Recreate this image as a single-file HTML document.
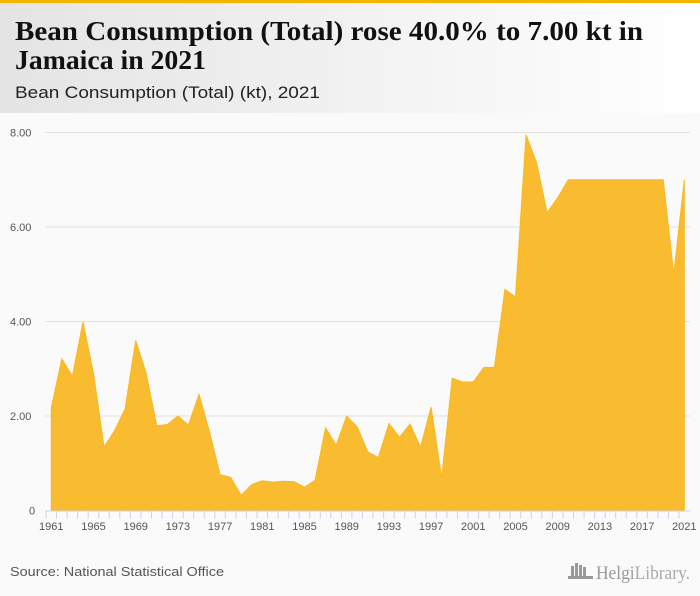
<!DOCTYPE html>
<html><head><meta charset="utf-8"><style>
html,body{margin:0;padding:0;background:#fafafa;}
svg{display:block;font-family:"Liberation Sans",sans-serif;}
</style></head><body>
<svg id="chart" width="700" height="596" viewBox="0 0 700 596">
<defs><linearGradient id="hg" x1="0" x2="1" y1="0" y2="0"><stop offset="0" stop-color="#e4e4e4"/><stop offset="1" stop-color="#ffffff"/></linearGradient></defs>
<rect x="0" y="0" width="700" height="596" fill="#fafafa"/>
<rect x="0" y="0" width="700" height="113" fill="url(#hg)"/>
<rect x="0" y="0" width="700" height="3" fill="#f5b400"/>
<text x="15" y="40" font-family="Liberation Serif,serif" font-weight="bold" font-size="27" fill="#111" textLength="628" lengthAdjust="spacingAndGlyphs">Bean Consumption (Total) rose 40.0% to 7.00 kt in</text>
<text x="15" y="69" font-family="Liberation Serif,serif" font-weight="bold" font-size="27" fill="#111" textLength="191" lengthAdjust="spacingAndGlyphs">Jamaica in 2021</text>
<text x="15" y="98" font-size="17" fill="#222" textLength="305" lengthAdjust="spacingAndGlyphs">Bean Consumption (Total) (kt), 2021</text>
<g id="grid"></g>
<g id="plot"></g>
<g id="xaxis"></g>
<text x="10" y="576" font-size="13" fill="#555" textLength="214" lengthAdjust="spacingAndGlyphs">Source: National Statistical Office</text>
<g>
<rect x="571" y="566" width="3" height="10" fill="#999"/><rect x="575" y="563" width="3" height="13" fill="#999"/><rect x="579" y="565" width="3" height="11" fill="#999"/><rect x="583" y="567" width="3" height="9" fill="#999"/><rect x="568" y="576" width="25" height="3" fill="#999"/>
<text x="596" y="579" font-family="Liberation Serif,serif" font-size="19" fill="#999" textLength="94" lengthAdjust="spacingAndGlyphs">Helgi<tspan fill="#aaa">Library.</tspan></text>
</g>
</svg>
<script>
const years=[];for(let y=1961;y<=2021;y++)years.push(y);
const values=[2.17,3.21,2.84,3.99,2.9,1.34,1.69,2.15,3.6,2.9,1.79,1.82,2.0,1.81,2.46,1.66,0.76,0.70,0.32,0.55,0.63,0.60,0.62,0.61,0.49,0.64,1.75,1.38,2.0,1.77,1.24,1.12,1.84,1.55,1.83,1.34,2.19,0.69,2.8,2.72,2.72,3.03,3.03,4.68,4.52,7.95,7.36,6.3,6.62,7,7,7,7,7,7,7,7,7,7,5.0,7.0];
const yTicks=[0,2,4,6,8];
const yTickLabels=["0","2.00","4.00","6.00","8.00"];
const xLabelYears=[1961,1965,1969,1973,1977,1981,1985,1989,1993,1997,2001,2005,2009,2013,2017,2021];
const NS="http://www.w3.org/2000/svg";
const X0=51.3,X1=684.3,Y0=510.5,Y8=132.5;
function xs(y){return X0+(y-1961)*(X1-X0)/(2021-1961);}
function ys(v){return Y0-v*(Y0-Y8)/8;}
function mk(t,a,p){const e=document.createElementNS(NS,t);for(const k in a)e.setAttribute(k,a[k]);p.appendChild(e);return e;}
const grid=document.getElementById('grid');
yTicks.forEach((t,i)=>{
 if(t>0){const l=mk('line',{x1:45,x2:690,y1:ys(t),y2:ys(t),stroke:'#e2e2e2','stroke-width':1},grid);
 
 }
 const tx=mk('text',{x:t===0?29:10,y:ys(t)+4,'font-size':11,fill:'#555'},grid);tx.textContent=yTickLabels[i];
 
 
});
const plot=document.getElementById('plot');
let d='M'+xs(years[0])+','+ys(0);
years.forEach((y,i)=>{d+=' L'+xs(y).toFixed(2)+','+ys(values[i]).toFixed(2);});
d+=' L'+xs(years[years.length-1])+','+ys(0)+' Z';
const area=mk('path',{d:d,fill:'#f9bc30',stroke:'#f9b820','stroke-width':1},plot);


const xa=document.getElementById('xaxis');
const ax=mk('line',{x1:45,x2:690,y1:Y0+0.5,y2:Y0+0.5,stroke:'#c8d4e8','stroke-width':1},xa);


years.forEach(y=>{const t=mk('line',{x1:xs(y)-5.3,x2:xs(y)-5.3,y1:Y0,y2:Y0+8,stroke:'#c8d4e8','stroke-width':1},xa);
 
 });
xLabelYears.forEach(y=>{const t=mk('text',{x:xs(y),y:530,'font-size':11,fill:'#555','text-anchor':'middle'},xa);t.textContent=y;
 
 });
</script>
</body></html>
